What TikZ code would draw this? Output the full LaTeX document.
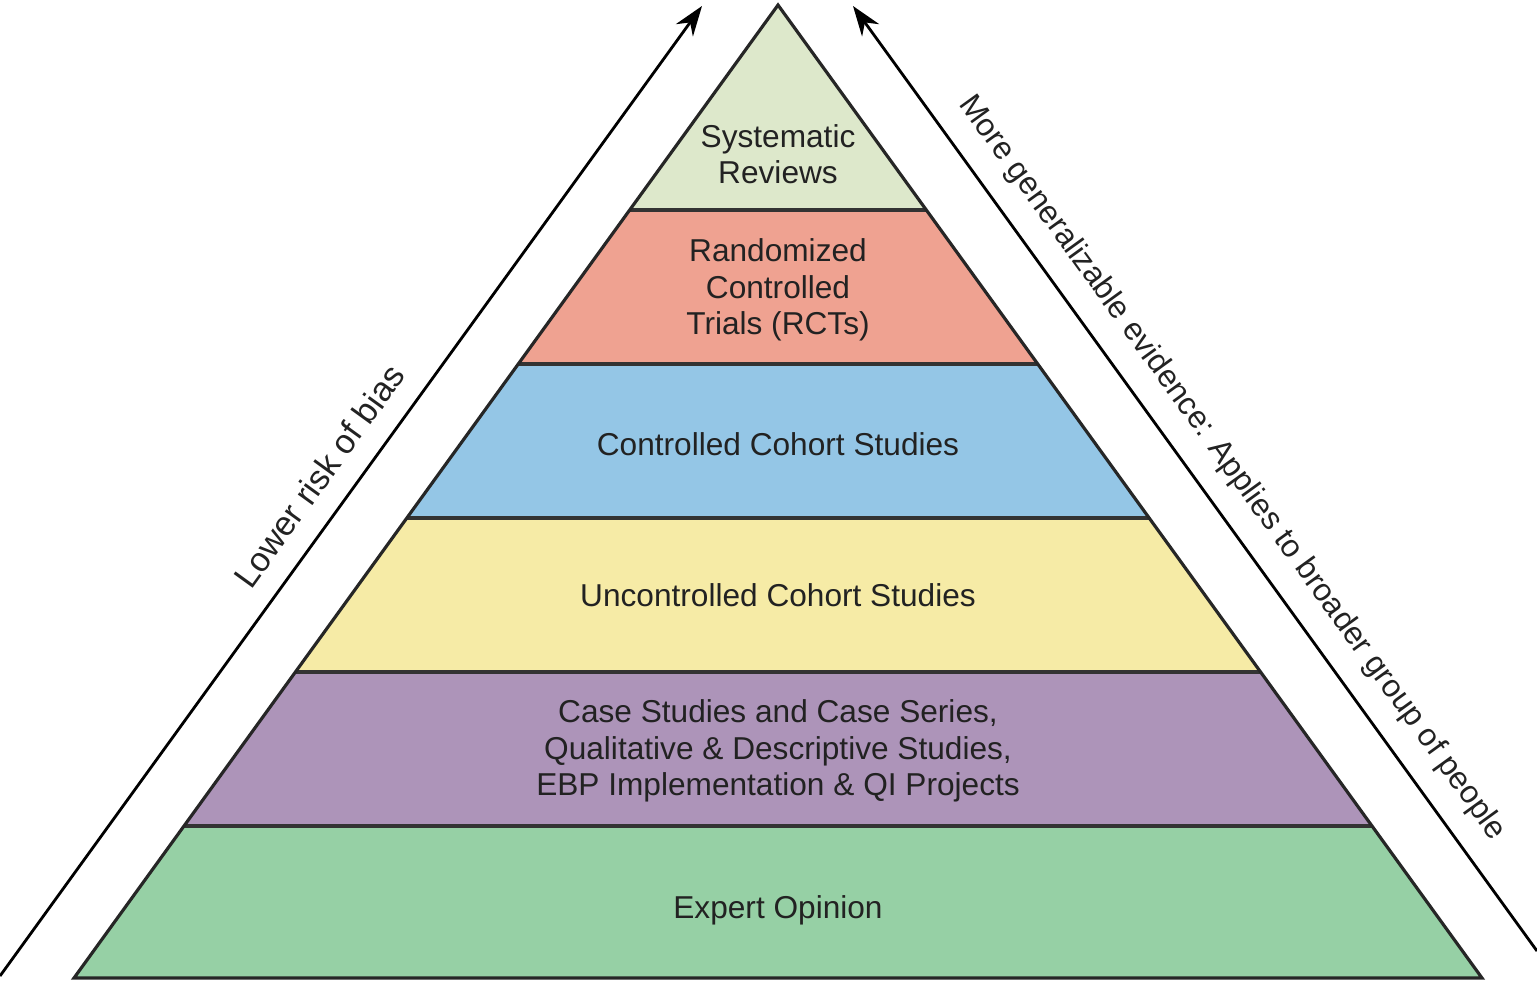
\documentclass[tikz,border=0pt]{standalone}
\usepackage{fontspec}
\setmainfont{Liberation Sans}
\usetikzlibrary{arrows.meta, positioning}

\definecolor{srcol}{HTML}{DDE8CB}
\definecolor{rctcol}{HTML}{EFA291}
\definecolor{ccscol}{HTML}{94C6E6}
\definecolor{ucscol}{HTML}{F6EBA6}
\definecolor{cscol}{HTML}{AD94B9}
\definecolor{eocol}{HTML}{96D0A5}
\definecolor{txtcol}{HTML}{222222}

\begin{document}
\begin{tikzpicture}[x=0.1mm, y=-0.1mm,
    band/.style={text=txtcol, align=center, font=\fontsize{9}{10.4}\selectfont},
    side/.style={text=txtcol, font=\fontsize{9}{10.4}\selectfont},
    arr/.style={-{Stealth[length=3mm, width=2.1mm]}, line width=0.8pt, black}]
  \useasboundingbox (0,0) rectangle (1537,980);

  \coordinate (apex) at (778,5);
  \coordinate (bl) at (74,978);
  \coordinate (br) at (1482,978);

  % bands of the pyramid
  \foreach \yt/\yb/\col in {5/210/srcol, 210/364/rctcol, 364/518/ccscol,
      518/672/ucscol, 672/826/cscol, 826/978/eocol} {
    \fill[\col] ({778-(\yt-5)*0.7235},\yt) -- ({778+(\yt-5)*0.7235},\yt)
      -- ({778+(\yb-5)*0.7235},\yb) -- ({778-(\yb-5)*0.7235},\yb) -- cycle;
  }
  \foreach \yy in {210, 364, 518, 672, 826} {
    \draw[line width=0.9pt, black!80] ({778-(\yy-5)*0.7235},\yy) -- ({778+(\yy-5)*0.7235},\yy);
  }
  \draw[line width=0.9pt, black!85, line join=miter] (apex) -- (bl) -- (br) -- cycle;

  \node[band] (SR) at (778,154) {Systematic\\Reviews};
  \node[band] (RCT) at (778,290) {Randomized\\Controlled\\Trials (RCTs)};
  \node[band] (CCS) at (778,444) {Controlled Cohort Studies};
  \node[band] (UCS) at (778,595) {Uncontrolled Cohort Studies};
  \node[band] (CS) at (778,751) {Case Studies and Case Series,\\Qualitative \& Descriptive Studies,\\EBP Implementation \& QI Projects};
  \node[band] (EO) at (778,910) {Expert Opinion};

  % side arrows
  \coordinate (biasS) at (0,976);
  \coordinate (biasE) at (702,6);
  \coordinate (genS) at (1537,951);
  \coordinate (genE) at (853,6);
  \draw[arr] (biasS) -- (biasE);
  \draw[arr] (genS) -- (genE);

  \node[side, rotate=54.1, font=\fontsize{9.7}{11}\selectfont] (bias) at (319,476) {Lower risk of bias};
  \node[side, rotate=-54.1] (general) at (1232,468) {More generalizable evidence: Applies to broader group of people};
\end{tikzpicture}
\end{document}
